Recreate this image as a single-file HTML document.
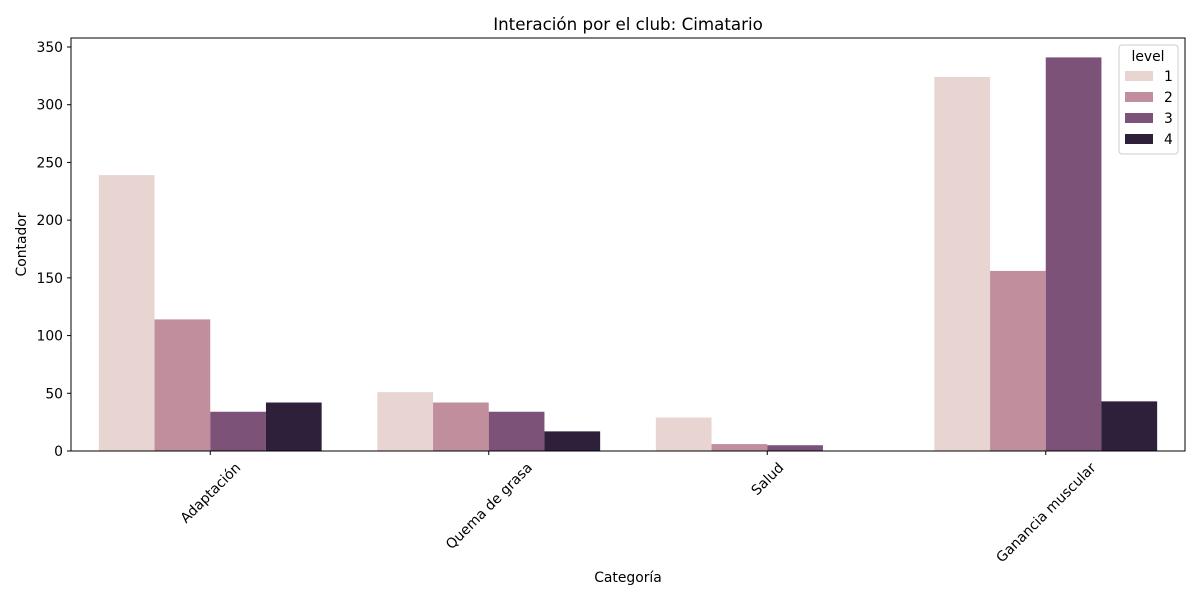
<!DOCTYPE html>
<html><head><meta charset="utf-8"><style>body{margin:0;background:#fff}svg{display:block;font-family:"DejaVu Sans","Liberation Sans",sans-serif}</style></head>
<body>
<svg id="chart" width="1200" height="600"></svg>
<script>
const categories=["Adaptación","Quema de grasa","Salud","Ganancia muscular"];
const levels=["1","2","3","4"];
const level1=[239,51,29,324];
const level2=[114,42,6,156];
const level3=[34,34,5,341];
const level4=[42,17,0,43];
const yTicks=[0,50,100,150,200,250,300,350];
const colors=["#e8d4d0","#c08e9d","#7c5278","#2e1f3a"];
const series=[level1,level2,level3,level4];
const L=71,R=1185,T=38,B=451;
const FS=13.9;
const NS="http://www.w3.org/2000/svg";
const svg=document.getElementById('chart');
const step=(R-L)/categories.length;
const xC=i=>L+step*(i+0.5);
const y=v=>B-v*(404/350);
function mk(t,a,txt){const e=document.createElementNS(NS,t);for(const k in a)e.setAttribute(k,a[k]);if(txt!=null)e.textContent=txt;svg.appendChild(e);return e;}
const bw=step*0.8/4;
series.forEach((s,j)=>s.forEach((v,i)=>{
 const r=mk('rect',{x:xC(i)-step*0.4+j*bw,y:y(v),width:bw,height:B-y(v),fill:colors[j]});
 
 
}));
const ax=mk('rect',{x:L,y:T,width:R-L,height:B-T,fill:'none',stroke:'#000','stroke-width':1});


yTicks.forEach(v=>{
 mk('line',{x1:L-4,x2:L,y1:y(v),y2:y(v),stroke:'#000'});
 const t=mk('text',{x:L-8,y:y(v)+5,'text-anchor':'end','font-size':FS},v);
 
 
});
categories.forEach((c,i)=>{
 const x=xC(i);
 mk('line',{x1:x,x2:x,y1:B,y2:B+4,stroke:'#000'});
 const t=mk('text',{x:x,y:0,'text-anchor':'middle','font-size':FS},c);
 const len=t.getComputedTextLength();
 const cy=B+9+len*0.707/2+5;
 t.setAttribute('y',cy+5);
 t.setAttribute('transform',`rotate(-45 ${x} ${cy})`);
 
 
});
const ti=mk('text',{x:(L+R)/2,y:30,'text-anchor':'middle','font-size':16.7},'Interación por el club: Cimatario');


const xt=mk('text',{x:(L+R)/2,y:582,'text-anchor':'middle','font-size':FS},'Categoría');


const yt=mk('text',{x:26,y:(T+B)/2,'text-anchor':'middle','font-size':FS,transform:`rotate(-90 26 ${(T+B)/2})`},'Contador');


const lg=mk('rect',{x:1119,y:45,width:59,height:109,fill:'#fff',stroke:'#ccc',rx:3});


mk('text',{x:1148,y:61,'text-anchor':'middle','font-size':FS},'level');
levels.forEach((l,j)=>{
 const yy=71+j*21;
 mk('rect',{x:1125,y:yy,width:28,height:10,fill:colors[j]});
 const t=mk('text',{x:1164,y:yy+10,'font-size':FS},l);
 
 
});
</script>
</body></html>
